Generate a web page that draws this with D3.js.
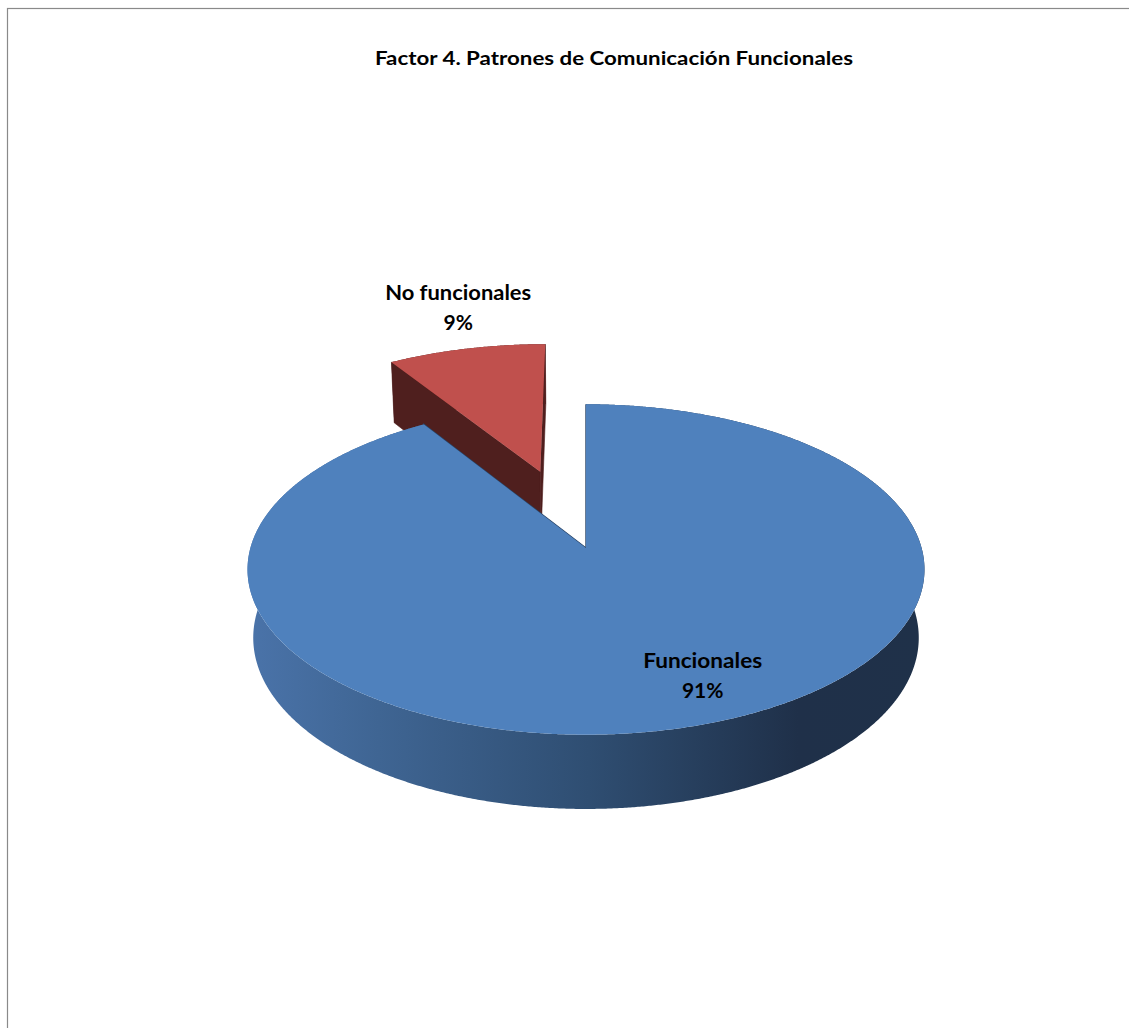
<!DOCTYPE html>
<html>
<head>
<meta charset="utf-8">
<script src="https://cdn.jsdelivr.net/npm/d3@7"></script>
<style>
  body { margin: 0; background: #ffffff; }
  svg { display: block; }
</style>
</head>
<body>
<script>
// Chart data
const chartTitle = "Factor 4. Patrones de Comunicación Funcionales";
const categories = ["Funcionales", "No funcionales"];
const values = [91, 9];
const explodeFraction = [0, 0.52];           // how far each slice is pulled out, as a share of the radius
const topColors = ["#4f81bd", "#c0504d"];
const sideColors = ["url(#blueSide)", "#4f1f1e"];

const W = 1129, H = 1028;
const svg = d3.select("body").append("svg").attr("width", W).attr("height", H);

// Chart-area frame
svg.append("rect")
  .attr("x", 7.5).attr("y", 8.5)
  .attr("width", W).attr("height", H)
  .attr("fill", "none").attr("stroke", "#8a8a8a").attr("stroke-width", 1.2);

// Title
svg.append("text")
  .attr("x", 614).attr("y", 65)
  .attr("text-anchor", "middle")
  .attr("font-family", "Lato, 'Open Sans', sans-serif")
  .attr("font-weight", "bold").attr("font-size", 18)
  .attr("textLength", 478).attr("lengthAdjust", "spacingAndGlyphs")
  .attr("fill", "#000")
  .text(chartTitle);

// Side-wall shading for the blue slice (light on the left, dark on the right)
const defs = svg.append("defs");
const grad = defs.append("linearGradient")
  .attr("id", "blueSide")
  .attr("gradientUnits", "userSpaceOnUse")
  .attr("x1", 250).attr("y1", 0).attr("x2", 927).attr("y2", 0);
[[0, "#4a73a9"], [0.19, "#3f6593"], [0.5, "#2f4e72"], [0.81, "#1f3049"], [1, "#1f3149"]]
  .forEach(([o, c]) => grad.append("stop").attr("offset", o).attr("stop-color", c));

// Simple perspective camera for the 3D pie
const cx = 586, cy = 548, focal = 2260;
const sinA = 0.484, cosA = Math.sqrt(1 - sinA * sinA);
const radius = 0.1485, thickness = 0.0349;

function project(X, Y, Z) {
  const d = 1 + Y * cosA - Z * sinA;
  return [cx + focal * X / d, cy - focal * (Y * sinA + Z * cosA) / d];
}

const pie = d3.pie().sort(null).value(d => d);
const arcs = pie(values).map((a, i) => {
  const mid = (a.startAngle + a.endAngle) / 2;
  const e = explodeFraction[i] * radius;
  return { ...a, i, mid, ox: e * Math.sin(mid), oy: e * Math.cos(mid) };
});

function pt(a, r, t, z) {
  return project(a.ox + r * Math.sin(t), a.oy + r * Math.cos(t), z);
}
function arcPts(a, t0, t1, z) {
  const n = Math.max(2, Math.ceil(Math.abs(t1 - t0) / 0.005));
  return d3.range(n + 1).map(k => pt(a, radius, t0 + (t1 - t0) * k / n, z));
}
const line = d3.line();
const closed = pts => line(pts) + "Z";

// Farther slices first
const order = arcs.slice().sort((p, q) => q.oy - p.oy);
const g = svg.append("g");

order.forEach(a => {
  const z0 = 0, z1 = -thickness;
  // outer wall
  const wall = arcPts(a, a.startAngle, a.endAngle, z0)
    .concat(arcPts(a, a.endAngle, a.startAngle, z1));
  g.append("path").attr("d", closed(wall)).attr("fill", sideColors[a.i]);

  // radial cut faces
  [a.startAngle, a.endAngle].forEach(t => {
    const face = [pt(a, 0, t, z0), pt(a, radius, t, z0), pt(a, radius, t, z1), pt(a, 0, t, z1)];
    g.append("path").attr("d", closed(face))
      .attr("fill", a.i === 0 ? "#2a4466" : "#4f1f1e")
      .attr("stroke", a.i === 0 ? "#2a4466" : "#4f1f1e")
      .attr("stroke-width", a.i === 0 ? 1.4 : 0.6);
  });

  // top face
  const top = [pt(a, 0, a.startAngle, z0)].concat(arcPts(a, a.startAngle, a.endAngle, z0));
  g.append("path").attr("d", closed(top)).attr("fill", topColors[a.i]);
});

// Data labels
const total = d3.sum(values);
const labelRadius = [0.776, 1.38];
const labelShift = [-7.8, 2.5];
arcs.forEach(a => {
  const t = a.mid + labelShift[a.i] * Math.PI / 180;
  const [lx, ly] = pt(a, labelRadius[a.i] * radius, t, 0);
  const txt = svg.append("text")
    .attr("text-anchor", "middle")
    .attr("font-family", "Lato, 'Open Sans', sans-serif")
    .attr("font-weight", "bold").attr("font-size", 21)
    .attr("fill", "#000");
  txt.append("tspan").attr("x", lx).attr("y", ly - 7)
    .attr("textLength", a.i === 0 ? 119 : 146).attr("lengthAdjust", "spacingAndGlyphs")
    .text(categories[a.i]);
  txt.append("tspan").attr("x", lx).attr("y", ly + 23)
    .text(Math.round(values[a.i] / total * 100) + "%");
});
</script>
</body>
</html>
